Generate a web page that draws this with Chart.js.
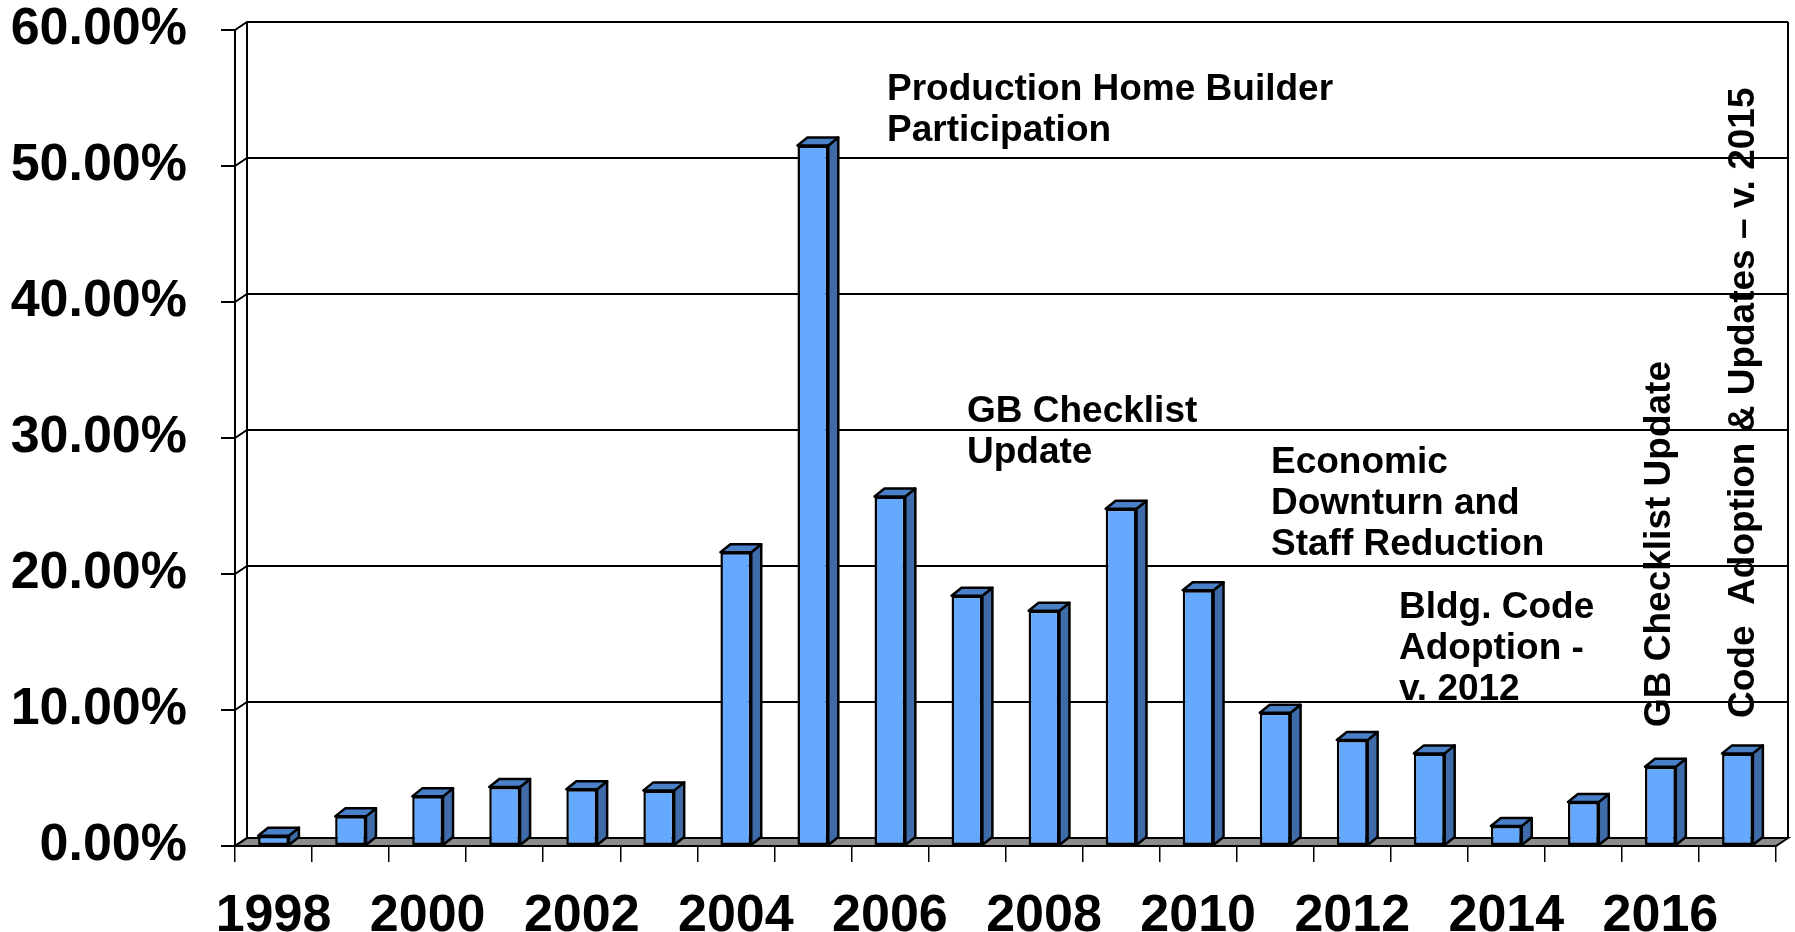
<!DOCTYPE html>
<html>
<head>
<meta charset="utf-8">
<script src="https://cdn.jsdelivr.net/npm/chart.js@4/dist/chart.umd.min.js"></script>
<style>
  html, body { margin: 0; padding: 0; background: #fff; }
  #wrap { width: 1795px; height: 932px; }
</style>
</head>
<body>
<div id="wrap"><canvas id="participationChart" width="1795" height="932"></canvas></div>
<script>
// data
const years = ['1998', '1999', '2000', '2001', '2002', '2003', '2004', '2005', '2006', '2007',
               '2008', '2009', '2010', '2011', '2012', '2013', '2014', '2015', '2016', '2017'];
const participation = [0.76, 2.18, 3.65, 4.34, 4.17, 4.09, 21.6, 51.5, 25.7, 18.4,
                       17.3, 24.8, 18.8, 9.8, 7.79, 6.81, 1.47, 3.24, 5.83, 6.81];
const yTicks = [0, 10, 20, 30, 40, 50, 60];

const notes = [
  { lines: ['Production Home Builder', 'Participation'], x: 887, y: 100 },
  { lines: ['GB Checklist', 'Update'], x: 967, y: 422 },
  { lines: ['Economic', 'Downturn and', 'Staff Reduction'], x: 1271, y: 473 },
  { lines: ['Bldg. Code', 'Adoption -', 'v. 2012'], x: 1399, y: 618 }
];
const verticalNotes = [
  { text: 'GB Checklist Update', x: 1670, y: 727 },
  { text: 'Code  Adoption & Updates \u2013 v. 2015', x: 1754, y: 718 }
];

const FONT = "'Liberation Sans', Arial, sans-serif";
const WALL_DX = 12, WALL_DY = 8;
const BAR_DX = 10, BAR_DY = 8;

// back wall, floor and gridlines
const wallPlugin = {
  id: 'wall',
  beforeDatasetsDraw(chart) {
    const ctx = chart.ctx;
    const a = chart.chartArea;
    const y = chart.scales.y;
    ctx.save();
    ctx.strokeStyle = '#000';
    ctx.lineWidth = 2;
    // floor
    ctx.fillStyle = '#8c8c8c';
    ctx.beginPath();
    ctx.moveTo(a.left, a.bottom);
    ctx.lineTo(a.right, a.bottom);
    ctx.lineTo(a.right + WALL_DX, a.bottom - WALL_DY);
    ctx.lineTo(a.left + WALL_DX, a.bottom - WALL_DY);
    ctx.closePath();
    ctx.fill();
    ctx.stroke();
    // gridlines on back wall
    yTicks.forEach(v => {
      const py = y.getPixelForValue(v);
      ctx.beginPath();
      ctx.moveTo(a.left, py);
      ctx.lineTo(a.left + WALL_DX, py - WALL_DY);
      ctx.lineTo(a.right + WALL_DX, py - WALL_DY);
      ctx.stroke();
    });
    // wall edges
    ctx.beginPath();
    ctx.moveTo(a.left + WALL_DX, a.top - WALL_DY);
    ctx.lineTo(a.left + WALL_DX, a.bottom - WALL_DY);
    ctx.moveTo(a.right + WALL_DX, a.top - WALL_DY);
    ctx.lineTo(a.right + WALL_DX, a.bottom - WALL_DY);
    ctx.stroke();
    ctx.restore();
  },
  afterDatasetsDraw(chart) {
    const ctx = chart.ctx;
    const meta = chart.getDatasetMeta(0);
    ctx.save();
    ctx.strokeStyle = '#000';
    ctx.lineWidth = 2.5;
    ctx.lineJoin = 'round';
    meta.data.forEach(bar => {
      const p = bar.getProps(['x', 'y', 'base', 'width'], true);
      const l = p.x - p.width / 2, r = p.x + p.width / 2;
      // side face
      ctx.fillStyle = '#3f6ca8';
      ctx.beginPath();
      ctx.moveTo(r, p.y);
      ctx.lineTo(r + BAR_DX, p.y - BAR_DY);
      ctx.lineTo(r + BAR_DX, p.base - BAR_DY);
      ctx.lineTo(r, p.base);
      ctx.closePath();
      ctx.fill();
      ctx.stroke();
      // top face
      ctx.fillStyle = '#4a80c8';
      ctx.beginPath();
      ctx.moveTo(l, p.y);
      ctx.lineTo(l + BAR_DX, p.y - BAR_DY);
      ctx.lineTo(r + BAR_DX, p.y - BAR_DY);
      ctx.lineTo(r, p.y);
      ctx.closePath();
      ctx.fill();
      ctx.stroke();
    });
    ctx.restore();
  },
  afterDraw(chart) {
    const ctx = chart.ctx;
    ctx.save();
    ctx.fillStyle = '#000';
    ctx.font = 'bold 37px ' + FONT;
    ctx.textBaseline = 'alphabetic';
    ctx.textAlign = 'left';
    notes.forEach(n => {
      n.lines.forEach((t, i) => ctx.fillText(t, n.x, n.y + i * 41));
    });
    verticalNotes.forEach(n => {
      ctx.save();
      ctx.translate(n.x, n.y);
      ctx.rotate(-Math.PI / 2);
      ctx.fillText(n.text, 0, 0);
      ctx.restore();
    });
    ctx.restore();
  }
};

new Chart(document.getElementById('participationChart'), {
  type: 'bar',
  data: {
    labels: years,
    datasets: [{
      data: participation,
      backgroundColor: '#65a9ff',
      borderColor: '#000',
      borderWidth: 2.5,
      borderSkipped: false,
      barPercentage: 0.4,
      categoryPercentage: 1.0
    }]
  },
  options: {
    responsive: false,
    animation: false,
    devicePixelRatio: 1,
    layout: { padding: { top: 30, right: 19, left: 0, bottom: 0 } },
    plugins: { legend: { display: false }, tooltip: { enabled: false } },
    scales: {
      x: {
        afterFit(scale) { scale.height = 86; },
        grid: { offset: true, drawOnChartArea: false, drawTicks: true, tickLength: 16, color: '#000', lineWidth: 1.5 },
        border: { display: true, color: '#000', width: 2 },
        ticks: {
          autoSkip: false,
          maxRotation: 0,
          color: '#000',
          padding: 29,
          font: { family: FONT, size: 52, weight: 'bold', lineHeight: 1 },
          callback: (v, i) => (i % 2 === 0 ? years[i] : '')
        }
      },
      y: {
        min: 0,
        max: 60,
        afterFit(scale) {
          scale.width = 235;
          scale.paddingTop = 0;
          scale.paddingBottom = 0;
        },
        afterBuildTicks(scale) { scale.ticks = yTicks.map(v => ({ value: v })); },
        grid: { drawOnChartArea: false, drawTicks: true, tickLength: 14, color: '#000', lineWidth: 2 },
        border: { display: true, color: '#000', width: 2 },
        ticks: {
          color: '#000',
          padding: 34,
          font: { family: FONT, size: 52, weight: 'bold', lineHeight: 1 },
          callback: v => v.toFixed(2) + '%'
        }
      }
    }
  },
  plugins: [wallPlugin]
});
</script>
</body>
</html>
